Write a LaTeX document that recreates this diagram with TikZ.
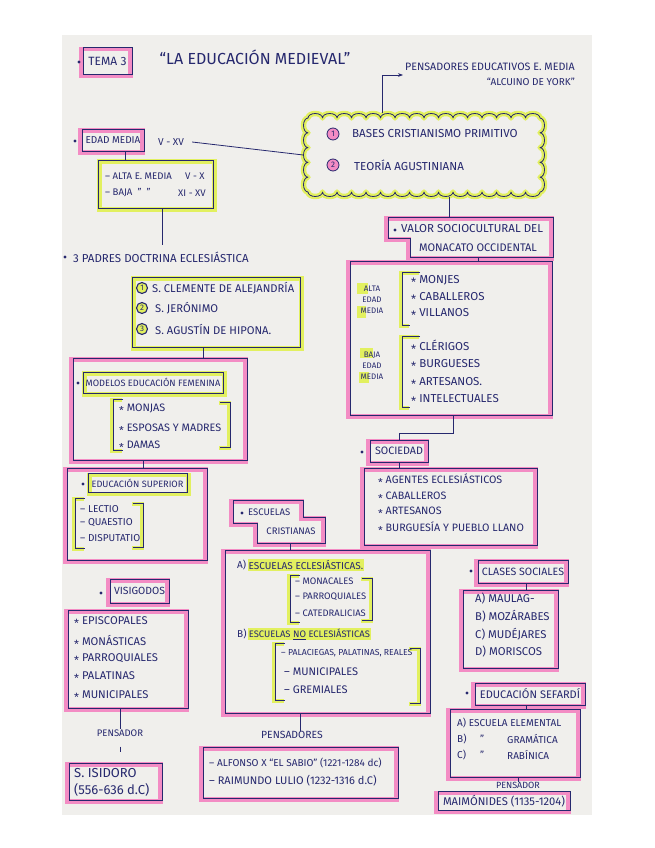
\documentclass[tikz,border=0pt]{standalone}
\usepackage{fontspec}
\newfontfamily\hand{Fira Sans}
\usetikzlibrary{arrows.meta,calc}
\definecolor{ink}{RGB}{38,40,110}
\definecolor{hlpink}{RGB}{243,140,196}
\definecolor{hllime}{RGB}{226,240,95}
\definecolor{paper}{RGB}{240,239,236}
\newcommand\stt{\raisebox{-0.45ex}{*}\ }
\tikzset{
  fs/.style={font=\hand\fontsize{#1}{#1}\selectfont},
  txt/.style={text=ink, inner sep=0pt, fs=8.5},
  lt/.style={txt, anchor=west},
  line/.style={draw=ink, line width=0.8pt},
  dot/.style={circle, fill=ink, inner sep=0pt, minimum size=3.4pt},
  pbox/.style={draw=ink, line width=0.9pt, inner sep=0pt,
    preaction={draw=hlpink, line width=4.5pt, transform canvas={shift={(-1.5pt,-1.5pt)}}}},
  lbox/.style={draw=ink, line width=0.9pt, inner sep=0pt,
    preaction={draw=hllime, line width=4.5pt, transform canvas={shift={(1.5pt,-1.5pt)}}}},
  pstep/.style={draw=ink, line width=0.9pt,
    preaction={draw=hlpink, line width=4.5pt, transform canvas={shift={(-1.5pt,-1.5pt)}}}},
  brk/.style={draw=ink, line width=0.8pt,
    preaction={draw=hllime, line width=3.5pt, transform canvas={shift={(-1.2pt,-1.2pt)}}}},
  circ/.style={circle, draw=ink, line width=0.8pt, fill=hlpink, inner sep=0pt, minimum size=12pt, text=ink, font=\hand\fontsize{8}{8}\selectfont},
  circl/.style={circle, draw=ink, line width=1.1pt, fill=hllime, inner sep=0pt, minimum size=11pt, text=ink, font=\hand\fontsize{8}{8}\selectfont},
  cloudline/.style={draw=ink, line width=0.8pt, line join=round,
    preaction={draw=hllime, line width=5.5pt, line join=round}},
  lab/.style={text=ink, inner sep=0pt, align=center, font=\hand\fontsize{8}{11}\selectfont},
}
\begin{document}
\begin{tikzpicture}[x=1pt,y=-1pt]
\path[use as bounding box] (0,0) rectangle (655,848);
\fill[paper] (62,35) rectangle (592,815);

% ---------- title ----------
\node[pbox, txt, fs=12, minimum width=49, minimum height=27] (tema) at (107.5,61) {TEMA 3};
\node[dot] (b0) at (79,62) {};
\node[txt, fs=16] (title) at (255,57) {“LA EDUCACIÓN MEDIEVAL”};

\node[lt, fs=10.7] (pens) at (405,67) {PENSADORES EDUCATIVOS E. MEDIA};
\node[txt, fs=10, anchor=east] (alc) at (575,82) {“ALCUINO DE YORK”};

% ---------- cloud ----------
\draw[cloudline] (308,118)
  foreach \i in {1,...,16} {arc[start angle=180, end angle=360, x radius=7.25, y radius=4.5]}
  foreach \i in {1,...,5} {arc[start angle=270, end angle=450, x radius=4.5, y radius=7.4]}
  foreach \i in {1,...,16} {arc[start angle=0, end angle=180, x radius=7.25, y radius=4.5]}
  foreach \i in {1,...,5} {arc[start angle=90, end angle=270, x radius=4.5, y radius=7.4]} -- cycle;
\node[minimum width=241, minimum height=83, inner sep=0pt] (cloud) at (424,155) {};
\node[circ] (c1) at (333,134) {1};
\node[lt, fs=11.6] (bases) at (352,134) {BASES CRISTIANISMO PRIMITIVO};
\node[circ] (c2) at (333,165) {2};
\node[lt, fs=11.6] (teoria) at (354,165) {TEORÍA AGUSTINIANA};
\coordinate (turn) at (382,75);
\draw[line, -{Stealth[length=5pt]}, shorten >=2pt] (cloud.north -| turn) -- (turn) -- (pens.west |- turn);

% ---------- edad media ----------
\node[pbox, txt, fs=10, minimum width=62, minimum height=22] (edad) at (113,140) {EDAD MEDIA};
\node[dot] (b1) at (75,141) {};
\node[txt, fs=10] (vxv) at (171,142) {V - XV};
\draw[line] ([xshift=8]vxv.east) -- (cloud.west);

\node[lbox, minimum width=115, minimum height=48] (ab) at (155.5,184) {};
\node[lt, fs=9.6] (alta) at (105,176) {– ALTA E. MEDIA};
\node[lt, fs=9.6] (altar) at (185,176) {V - X};
\node[lt, fs=9.6] (baja) at (105,193) {– BAJA \ ” \ ”};
\node[lt, fs=9.6] (bajar) at (178,193) {XI - XV};
\draw[line] ([xshift=12]edad.south) -- ([xshift=12]edad.south |- ab.north);

\node[dot] (b2) at (65,257) {};
\node[lt, fs=11.5] (padres) at (73,257) {3 PADRES DOCTRINA ECLESIÁSTICA};
\draw[line, shorten >=6pt] ([xshift=6.5]ab.south) -- ([xshift=6.5]ab.south |- padres.north);

% ---------- tres padres ----------
\node[lbox, minimum width=168, minimum height=70] (tres) at (216,312) {};
\node[circl] (p1) at (142,288) {1};
\node[lt, fs=11.2] (cle) at (152,288) {S. CLEMENTE DE ALEJANDRÍA};
\node[circl] (p2) at (142,308) {2};
\node[lt, fs=11.2] (jer) at (155,308) {S. JERÓNIMO};
\node[circl] (p3) at (142,329) {3};
\node[lt, fs=11.2] (agu) at (155,329) {S. AGUSTÍN DE HIPONA.};

% ---------- femenina ----------
\node[pbox, minimum width=174, minimum height=102] (fem) at (160,409) {};
\draw[line] ([xshift=-13]tres.south) -- ([xshift=-13]tres.south |- fem.north);
\node[lbox, txt, fs=9.2, minimum width=140, minimum height=21] (femt) at (153,382.5) {MODELOS EDUCACIÓN FEMENINA};
\node[dot] (b3) at (78,383) {};
\draw[brk] (123,399) -- (113,399) -- (113,450) -- (123,450);
\draw[brk] (220,402) -- (230,402) -- (230,447) -- (220,447);
\node[lt, fs=10.8] (mon1) at (119,409) {\stt MONJAS};
\node[lt, fs=10.8] (mon2) at (119,429) {\stt ESPOSAS Y MADRES};
\node[lt, fs=10.8] (mon3) at (119,446) {\stt DAMAS};

% ---------- superior ----------
\node[pbox, minimum width=140, minimum height=92] (sup) at (137,514) {};
\draw[line] ([xshift=-17]fem.south) -- ([xshift=-17]fem.south |- sup.north);
\node[lbox, txt, fs=9.2, minimum width=99, minimum height=19] (supt) at (137.5,483) {EDUCACIÓN SUPERIOR};
\node[dot] (b4) at (83,484) {};
\draw[brk] (85,498) -- (75,498) -- (75,548) -- (85,548);
\draw[brk] (133,503) -- (143,503) -- (143,547) -- (133,547);
\node[lt, fs=10] (lec) at (80,509) {– LECTIO};
\node[lt, fs=10] (qua) at (80,523) {– QUAESTIO};
\node[lt, fs=10] (dis) at (80,538) {– DISPUTATIO};

% ---------- visigodos ----------
\node[pbox, txt, fs=10.4, minimum width=59, minimum height=24] (visi) at (139.5,591) {VISIGODOS};
\node[dot] (b5) at (101,593) {};
\node[pbox, minimum width=120, minimum height=98] (vlist) at (128,659) {};
\node[lt, fs=11.2] (v1) at (74,622) {\stt EPISCOPALES};
\node[lt, fs=11.2] (v2) at (74,642) {\stt MONÁSTICAS};
\node[lt, fs=11.2] (v3) at (74,659) {\stt PARROQUIALES};
\node[lt, fs=11.2] (v4) at (74,677) {\stt PALATINAS};
\node[lt, fs=11.2] (v5) at (74,696) {\stt MUNICIPALES};
\node[txt, fs=9.5] (pen1) at (120,733) {PENSADOR};
\draw[line] ([xshift=-8]vlist.south) -- ([xshift=-8]vlist.south |- pen1.north);
\draw[line] ($(pen1.south)+(0,10)$) -- ($(pen1.south)+(0,15)$);
\node[pbox, minimum width=93, minimum height=37] (isid) at (115.5,781.5) {};
\node[lt, fs=13] (is1) at (74,773) {S. ISIDORO};
\node[lt, fs=13] (is2) at (74,790) {(556-636 d.C)};

% ---------- escuelas cristianas ----------
\draw[pstep] (233,500) -- (303,500) -- (303,517) -- (325,517) -- (325,543) -- (257,543) -- (257,523) -- (233,523) -- cycle;
\node[dot] (b6) at (242,513) {};
\node[lt, fs=9.5] (escA) at (248,512) {ESCUELAS};
\node[txt, fs=9.5] (escB) at (291,531) {CRISTIANAS};
\coordinate (escbot) at (290,543);
\node[pbox, minimum width=205, minimum height=163] (ecl) at (327.5,631.5) {};
\draw[line] (escbot) -- (escbot |- ecl.north);
\node[lt, fs=10] (ea) at (237,565) {A)};
\node[lt, fs=10, fill=hllime, inner sep=1pt] (eat) at ([xshift=1]ea.east) {ESCUELAS ECLESIÁSTICAS.};
\draw[brk] (300,575) -- (290,575) -- (290,622) -- (300,622);
\draw[brk] (362,578) -- (372,578) -- (372,620) -- (362,620);
\node[lt, fs=9.4] (e1) at (295,581) {– MONACALES};
\node[lt, fs=9.4] (e2) at (295,597) {– PARROQUIALES};
\node[lt, fs=9.4] (e3) at (295,613) {– CATEDRALICIAS};
\node[lt, fs=10] (eb) at (237,634) {B)};
\node[lt, fs=9.4, fill=hllime, inner sep=1pt] (ebt) at ([xshift=1]eb.east) {ESCUELAS \underline{NO} ECLESIÁSTICAS};
\draw[brk] (285,643) -- (275,643) -- (275,700) -- (285,700);
\draw[brk] (410,648) -- (420,648) -- (420,703) -- (410,703);
\node[lt, fs=8.7] (f1) at (281,653) {– PALACIEGAS, PALATINAS, REALES};
\node[lt, fs=11] (f2) at (284,672) {– MUNICIPALES};
\node[lt, fs=11] (f3) at (284,690) {– GREMIALES};
\node[txt, fs=10.4] (pen2) at (292,735) {PENSADORES};
\draw[line] ([xshift=-27.5]ecl.south) -- ([xshift=-27.5]ecl.south |- pen2.north);
\node[pbox, minimum width=195, minimum height=51] (alf) at (300.5,772.5) {};
\node[lt, fs=10] (alf1) at (209,763) {– ALFONSO X “EL SABIO” (1221-1284 dc)};
\node[lt, fs=11] (alf2) at (209,781) {– RAIMUNDO LULIO (1232-1316 d.C)};

% ---------- valor sociocultural ----------
\draw[pstep] (388,217) -- (553,217) -- (553,257) -- (410,257) -- (410,238) -- (388,238) -- cycle;
\node[dot] (b7) at (395,230) {};
\node[lt, fs=11.5] (val1) at (401,229) {VALOR SOCIOCULTURAL DEL};
\node[txt, fs=11] (val2) at (478,248) {MONACATO OCCIDENTAL};
\coordinate (valtop) at (449,217);
\draw[line] (cloud.south -| valtop) -- (valtop);
\node[pbox, minimum width=202, minimum height=154] (mon) at (451,338) {};
\coordinate (valbot) at (478,257);
\draw[line] (valbot) -- (valbot |- mon.north);
\fill[hllime] (357,283) rectangle (368,294);
\fill[hllime] (357,306) rectangle (366,318);
\fill[hllime] (360,348) rectangle (373,358);
\fill[hllime] (359,372) rectangle (369,383);
\node[lab] (altal) at (372,300) {ALTA\\EDAD\\MEDIA};
\node[lab] (bajal) at (372,366) {BAJA\\EDAD\\MEDIA};
\draw[brk] (420,272) -- (402,272) -- (402,325) -- (410,325);
\draw[brk] (420,336) -- (402,336) -- (402,407) -- (410,407);
\node[lt, fs=11.5] (m1) at (411,281) {\stt MONJES};
\node[lt, fs=11.5] (m2) at (411,298) {\stt CABALLEROS};
\node[lt, fs=11.5] (m3) at (411,314) {\stt VILLANOS};
\node[lt, fs=11.5] (m4) at (411,347) {\stt CLÉRIGOS};
\node[lt, fs=11.5] (m5) at (411,365) {\stt BURGUESES};
\node[lt, fs=11.5] (m6) at (411,383) {\stt ARTESANOS.};
\node[lt, fs=11.5] (m7) at (411,400) {\stt INTELECTUALES};

% ---------- sociedad ----------
\node[pbox, txt, fs=10.7, minimum width=58, minimum height=22] (soc) at (399,451) {SOCIEDAD};
\node[dot] (b8) at (362,452) {};
\coordinate (monc) at (453,433);
\draw[line] (mon.south -| monc) -- (monc) -| (soc.north);
\node[pbox, minimum width=173, minimum height=77] (socl) at (450.5,506.5) {};
\draw[line] (soc.south) -- (soc.south |- socl.north);
\node[lt, fs=10.7] (s1) at (378,480) {\stt AGENTES ECLESIÁSTICOS};
\node[lt, fs=10.7] (s2) at (378,497) {\stt CABALLEROS};
\node[lt, fs=10.7] (s3) at (378,512) {\stt ARTESANOS};
\node[lt, fs=10.7] (s4) at (378,528) {\stt BURGUESÍA Y PUEBLO LLANO};

% ---------- clases sociales ----------
\node[pbox, txt, fs=10.6, minimum width=90, minimum height=23] (cls) at (523,571.5) {CLASES SOCIALES};
\node[dot] (b9) at (471,571) {};
\node[pbox, minimum width=95, minimum height=78] (clsl) at (510.5,629) {};
\draw[line] ([xshift=3]cls.south) -- ([xshift=3]cls.south |- clsl.north);
\node[lt, fs=11.3] (k1) at (475,599) {A) MAULAG-};
\node[lt, fs=11.3] (k2) at (475,616) {B) MOZÁRABES};
\node[lt, fs=11.3] (k3) at (475,634) {C) MUDÉJARES};
\node[lt, fs=11.3] (k4) at (475,652) {D) MORISCOS};

% ---------- sefardi ----------
\node[pbox, txt, fs=11, minimum width=110, minimum height=22] (sef) at (530,694) {EDUCACIÓN SEFARDÍ};
\node[dot] (b10) at (467,693) {};
\node[pbox, minimum width=130, minimum height=68] (sefl) at (515,743) {};
\draw[line] ([xshift=-4]sef.south) -- ([xshift=-4]sef.south |- sefl.north);
\node[lt, fs=10] (r1) at (457,723) {A) ESCUELA ELEMENTAL};
\node[lt, fs=10] (r2) at (457,739) {B)};
\node[lt, fs=10] (r2b) at (480,739) {”};
\node[lt, fs=10] (r2c) at (507,739) {GRAMÁTICA};
\node[lt, fs=10] (r3) at (457,755) {C)};
\node[lt, fs=10] (r3b) at (480,755) {”};
\node[lt, fs=10] (r3c) at (507,755) {RABÍNICA};
\node[txt, fs=9] (pen3) at (518,785) {PENSADOR};
\draw[line] ([xshift=3]sefl.south) -- ([xshift=3]sefl.south |- pen3.north);
\node[pbox, txt, fs=11.2, minimum width=132, minimum height=19] (maim) at (504,801) {MAIMÓNIDES (1135-1204)};
\end{tikzpicture}
\end{document}
